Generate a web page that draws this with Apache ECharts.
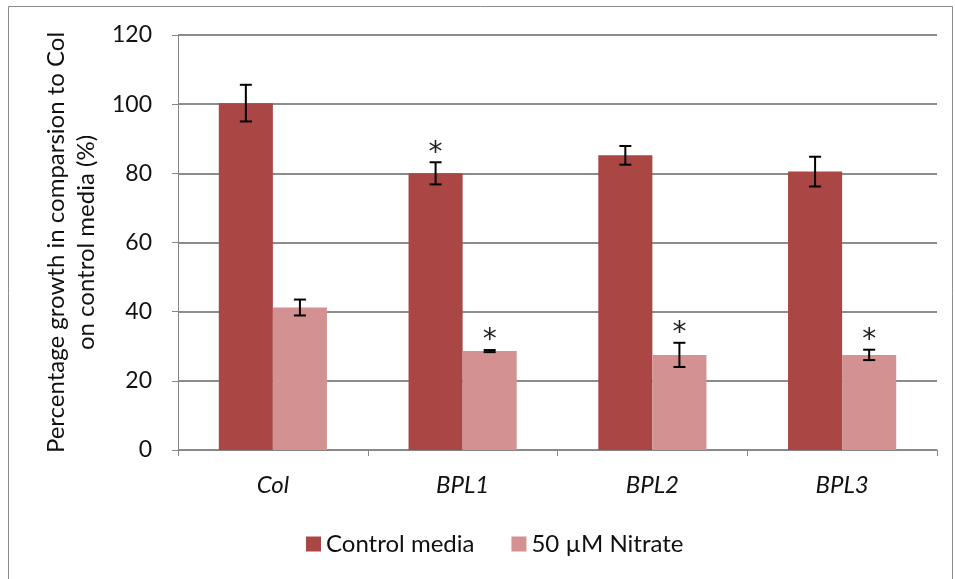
<!DOCTYPE html>
<html>
<head>
<meta charset="utf-8">
<script src="https://cdn.jsdelivr.net/npm/echarts@6/dist/echarts.min.js"></script>
<style>
html,body{margin:0;padding:0;background:#fff;}
#chart{width:955px;height:579px;}
</style>
</head>
<body>
<div id="chart"></div>
<script>
var categories = ['Col', 'BPL1', 'BPL2', 'BPL3'];
var controlValues = [100.3, 80.0, 85.2, 80.5];
var controlErrors = [5.3, 3.2, 2.7, 4.3];
var nitrateValues = [41.2, 28.6, 27.5, 27.5];
var nitrateErrors = [2.3, 0.3, 3.5, 1.5];
var controlSig = [false, true, false, false];
var nitrateSig = [false, true, true, true];
var yTicks = [0, 20, 40, 60, 80, 100, 120];
var seriesNames = ['Control media', '50 \u00b5M Nitrate'];

var FONT = 'Lato, "Open Sans", sans-serif';
var COLORS = ['#AA4744', '#D39291'];
var CAT_GAP = 0.43;

function errorRender(values, errors, sig, sideSign) {
  return function (params, api) {
    var i = params.dataIndex;
    var band = api.size([1, 0])[0];
    var off = sideSign * band * (1 - CAT_GAP) / 4;
    var c = api.coord([i, values[i]]);
    var x = c[0] + off;
    var top = api.coord([i, values[i] + errors[i]])[1];
    var bot = api.coord([i, values[i] - errors[i]])[1];
    var cap = 6;
    var style = {stroke: '#000', lineWidth: 2};
    var children = [
      {type: 'line', shape: {x1: x, y1: top, x2: x, y2: bot}, style: style},
      {type: 'line', shape: {x1: x - cap, y1: top, x2: x + cap, y2: top}, style: style},
      {type: 'line', shape: {x1: x - cap, y1: bot, x2: x + cap, y2: bot}, style: style}
    ];
    if (sig[i]) {
      children.push({type: 'text', style: {text: '*', x: x, y: top - 9, textAlign: 'center', textVerticalAlign: 'middle', font: '28px "DejaVu Sans", sans-serif', fill: '#222'}});
    }
    return {type: 'group', children: children};
  };
}

var chart = echarts.init(document.getElementById('chart'), null, {renderer: 'canvas'});
chart.setOption({
  animation: false,
  backgroundColor: '#fff',
  graphic: [{
    type: 'rect', shape: {x: 8.5, y: 6.5, width: 944, height: 600},
    style: {fill: 'none', stroke: '#8c8c8c', lineWidth: 1}, silent: true, z: -10
  }],
  grid: {left: 178, right: 18, top: 35, bottom: 129},
  legend: {
    left: 301, top: 527, itemWidth: 15, itemHeight: 15, itemGap: 37,
    icon: 'rect',
    textStyle: {fontFamily: FONT, fontSize: 24, color: '#111'},
    data: seriesNames
  },
  xAxis: {
    type: 'category', data: categories,
    axisLine: {lineStyle: {color: '#868686', width: 1}},
    axisTick: {show: true, length: 6, lineStyle: {color: '#868686'}},
    axisLabel: {fontFamily: FONT, fontSize: 24, fontStyle: 'italic', color: '#111', margin: 23}
  },
  yAxis: {
    type: 'value', min: 0, max: 120, interval: 20,
    name: 'Percentage growth in comparsion to Col\non control media (%)',
    nameLocation: 'middle', nameGap: 66, nameRotate: 90,
    nameTextStyle: {fontFamily: FONT, fontSize: 24, color: '#111', lineHeight: 30},
    axisLine: {show: true, lineStyle: {color: '#868686'}},
    axisTick: {show: true, length: 6, lineStyle: {color: '#868686'}},
    splitLine: {lineStyle: {color: '#8c8c8c', width: 2}},
    axisLabel: {fontFamily: FONT, fontSize: 23, color: '#111', margin: 26,
      formatter: function (v) { return yTicks.indexOf(v) >= 0 ? String(v) : ''; }}
  },
  series: [
    {name: seriesNames[0], type: 'bar', data: controlValues, barGap: '0%', barCategoryGap: '43%',
     itemStyle: {color: COLORS[0]}, z: 2},
    {name: seriesNames[1], type: 'bar', data: nitrateValues, barGap: '0%', barCategoryGap: '43%',
     itemStyle: {color: COLORS[1]}, z: 2},
    {type: 'custom', renderItem: errorRender(controlValues, controlErrors, controlSig, -1),
     data: controlValues.map(function (v, i) { return [i, v]; }), z: 5, silent: true},
    {type: 'custom', renderItem: errorRender(nitrateValues, nitrateErrors, nitrateSig, 1),
     data: nitrateValues.map(function (v, i) { return [i, v]; }), z: 5, silent: true}
  ]
});
</script>
</body>
</html>
